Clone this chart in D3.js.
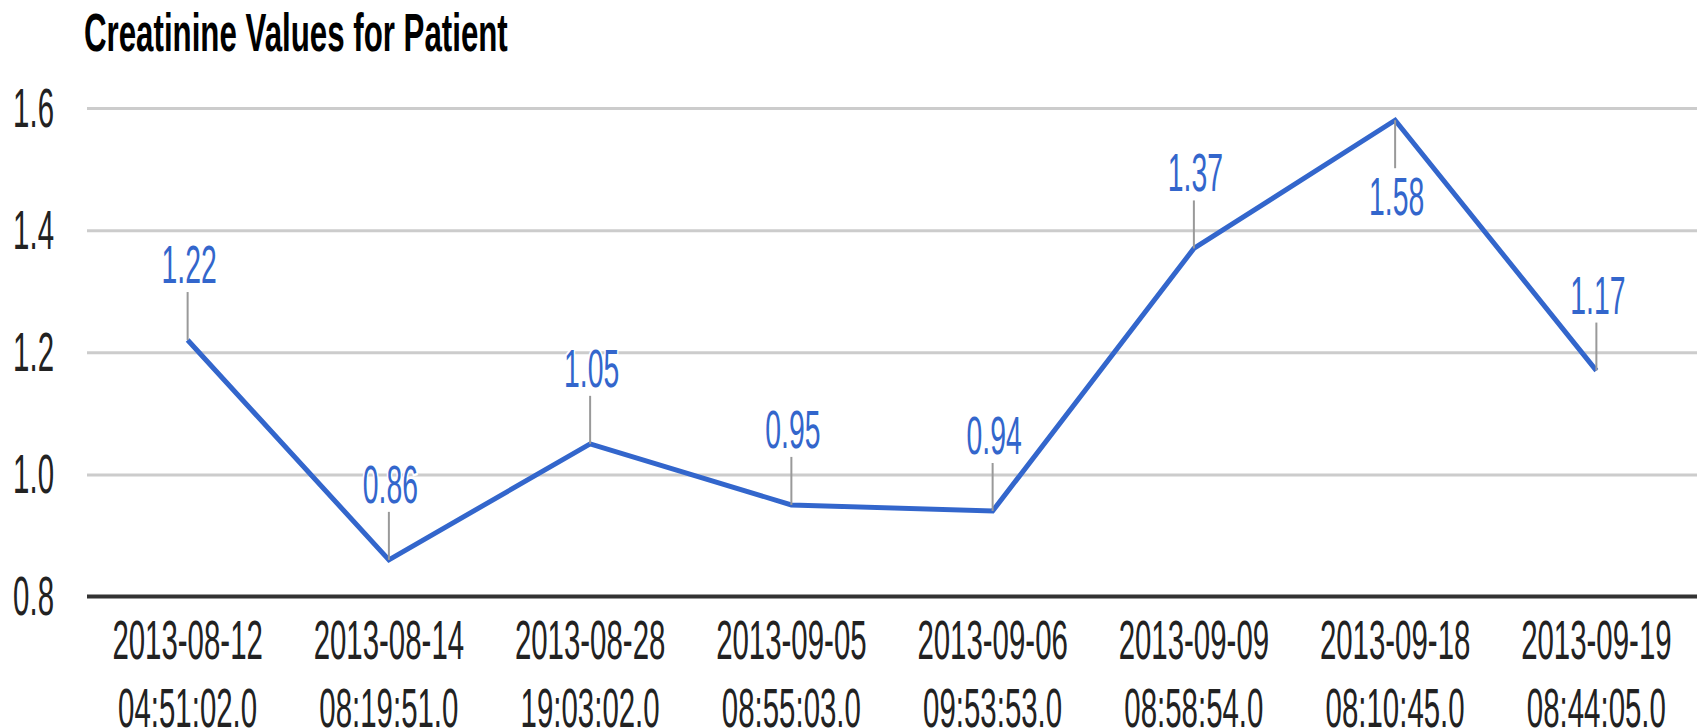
<!DOCTYPE html>
<html>
<head>
<meta charset="utf-8">
<script src="https://cdn.jsdelivr.net/npm/d3@7"></script>
<style>
  html, body { margin: 0; padding: 0; background: #fff; }
  svg { display: block; }
  text { font-family: "Liberation Sans", Arial, sans-serif; }
</style>
</head>
<body>
<svg id="chart" width="1701" height="728"></svg>
<script>
const title = "Creatinine Values for Patient";
const dateLabels = ["2013-08-12", "2013-08-14", "2013-08-28", "2013-09-05", "2013-09-06", "2013-09-09", "2013-09-18", "2013-09-19"];
const timeLabels = ["04:51:02.0", "08:19:51.0", "19:03:02.0", "08:55:03.0", "09:53:53.0", "08:58:54.0", "08:10:45.0", "08:44:05.0"];
const values = [1.22, 0.86, 1.05, 0.95, 0.94, 1.37, 1.58, 1.17];
const yTicks = [0.8, 1.0, 1.2, 1.4, 1.6];

(function () {
const cLeft = 87, cRight = 1697, cTop = 108, cBottom = 596.5;
const FS = 55, SX = 0.535;

const svg = d3.select("#chart");

const x = d3.scalePoint().domain(d3.range(dateLabels.length)).range([cLeft, cRight]).padding(0.5);
const y = d3.scaleLinear().domain([0.8, 1.6]).range([cBottom, cTop]);

// Title
const t = svg.append("text")
  .attr("font-size", 54.5).attr("font-weight", "bold").attr("fill", "#000")
  .text(title);
const tl = t.node().getComputedTextLength();
t.attr("transform", `translate(84,50.7) scale(${424 / tl},1)`);

// Y axis with gridlines
const yAxis = svg.append("g")
  .attr("transform", `translate(${cLeft},0)`)
  .call(d3.axisLeft(y).tickValues(yTicks).tickSize(-(cRight - cLeft)).tickFormat(d3.format(".1f")));
yAxis.select(".domain").remove();
yAxis.selectAll(".tick line")
  .attr("stroke", d => d === 0.8 ? "none" : "#cccccc")
  .attr("stroke-width", 3);
yAxis.selectAll(".tick text")
  .attr("x", null).attr("dy", null)
  .attr("font-size", FS)
  .attr("font-family", "Liberation Sans, Arial, sans-serif")
  .attr("fill", "#222")
  .attr("text-anchor", "end")
  .attr("transform", `translate(${54 - cLeft},18) scale(${SX},1)`);

// Baseline
svg.append("line")
  .attr("x1", cLeft).attr("x2", cRight)
  .attr("y1", y(0.8)).attr("y2", y(0.8))
  .attr("stroke", "#333").attr("stroke-width", 4);

// X labels
const xl = svg.append("g");
dateLabels.forEach((d, i) => {
  xl.append("text").attr("font-size", FS).attr("fill", "#222").attr("text-anchor", "middle")
    .attr("transform", `translate(${x(i)},659) scale(${SX},1)`).text(d);
  xl.append("text").attr("font-size", FS).attr("fill", "#222").attr("text-anchor", "middle")
    .attr("transform", `translate(${x(i)},727) scale(${SX},1)`).text(timeLabels[i]);
});

// Line
const line = d3.line().x((d, i) => x(i)).y(d => y(d));
svg.append("path").datum(values)
  .attr("d", line)
  .attr("fill", "none")
  .attr("stroke", "#3366cc")
  .attr("stroke-width", 5);

// Annotations
const stemLen = 48, gap = 9, capH = 38;
const ann = svg.append("g");
values.forEach((v, i) => {
  const px = x(i), py = y(v);
  const above = (py - stemLen - gap - capH) >= cTop;
  const sy2 = above ? py - stemLen : py + stemLen;
  ann.append("line")
    .attr("x1", px).attr("x2", px).attr("y1", py).attr("y2", sy2)
    .attr("stroke", "#999").attr("stroke-width", 2);
  const by = above ? sy2 - gap : sy2 + gap + capH;
  ann.append("text")
    .attr("font-size", 53).attr("fill", "#3366cc").attr("text-anchor", "middle")
    .attr("stroke", "#fff").attr("stroke-width", 5).attr("paint-order", "stroke")
    .attr("transform", `translate(${px + 1.5},${by}) scale(${SX},1)`)
    .text(v.toFixed(2));
});
})();
</script>
</body>
</html>
